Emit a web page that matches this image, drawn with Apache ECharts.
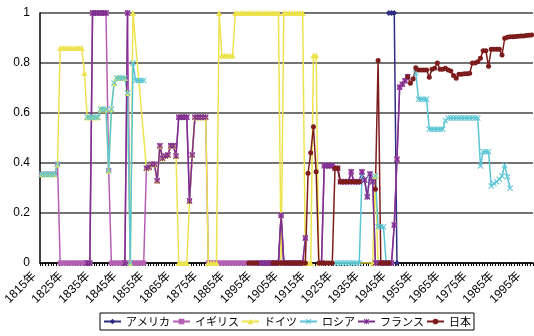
<!DOCTYPE html>
<html>
<head>
<meta charset="utf-8">
<script src="https://cdn.jsdelivr.net/npm/echarts@6/dist/echarts.min.js"></script>
<style>
  html, body { margin: 0; padding: 0; background: #fff; }
  #chart { width: 534px; height: 336px; }
</style>
</head>
<body>
<div id="chart"></div>
<script>
// Years on the category axis, 1815 .. 1997
const firstYear = 1815;
const lastYear = 1997;
const years = [];
for (let y = firstYear; y <= lastYear; y++) years.push(y + '年');

const seriesNames = ['アメリカ', 'イギリス', 'ドイツ', 'ロシア', 'フランス', '日本'];

const _ = null;

// One value per year, ten years per row
const usa = [
  _,_,_,_,_,_,_,_,_,_,
  _,_,_,_,_,_,_,_,_,_,
  _,_,_,_,_,_,_,_,_,_,
  _,_,_,_,_,_,_,_,_,_,
  _,_,_,_,_,_,_,_,_,_,
  _,_,_,_,_,_,_,_,_,_,
  _,_,_,_,_,_,_,_,_,_,
  _,_,_,_,_,_,_,_,_,_,
  _,_,_,_,_,_,_,_,0,0.19,
  0,_,_,_,_,_,_,_,_,_,
  _,_,_,_,_,_,_,_,_,_,
  _,_,_,_,_,_,_,_,_,_,
  _,_,_,_,_,_,_,_,_,1,
  1,1,0,_,_,_,_,_,_,_,
  _,_,_,_,_,_,_,_,_,_,
  _,_,_,_,_,_,_,_,_,_,
  _,_,_,_,_,_,_,_,_,_,
  _,_,_,_,_,_,_,_,_,_,
  _,_,_
];

const uk = [
  0.355,0.355,0.355,0.355,0.355,0.355,0.395,0,0,0,
  0,0,0,0,0,0,0,0,0,1,
  1,1,1,1,1,0.37,0,0,0,0,
  0,0,1,0,0,0,0,0,0,0.379,
  0.383,0.395,0.395,0.329,0.469,0.419,0.428,0.432,0.469,0.469,
  0.428,0.583,0.583,0.583,0.583,0.248,0.432,0.583,0.583,0.583,
  0.583,0.583,0,0,0,0,0,0,0,0,
  0,0,0,0,0,0,0,0,0,0,
  0,0,0,0,0,0,0,0,0,0.19,
  0,0,0,0,0,0,0,0,0.1,_,
  _,_,_,_,0,0.389,0.389,0.389,0.389,0.379,
  0.379,0.325,0.325,0.325,0.325,0.365,0.325,0.325,0.325,0.365,
  0.332,0.265,0.356,0.325,0,0,0,0,0,0,
  0,0.152,0.415,0.703,0.715,0.729,0.745,_,_,_,
  _,_,_,_,_,_,_,_,_,_,
  _,_,_,_,_,_,_,_,_,_,
  _,_,_,_,_,_,_,_,_,_,
  _,_,_,_,_,_,_,_,_,_,
  _,_,_
];

const germany = [
  0.355,0.355,0.355,0.355,0.355,0.355,0.395,0.86,0.86,0.86,
  0.86,0.86,0.86,0.86,0.86,0.86,0.76,0.583,0.583,0.583,
  0.583,0.583,0.615,0.615,0.615,0.37,0.615,0.72,0.74,0.74,
  0.74,0.74,0.68,0,1,_,_,_,_,0.379,
  0.383,0.395,0.395,0.329,0.469,0.419,0.428,0.432,0.469,0.469,
  0.428,0,0,0,0,0.248,0.432,0.583,0.583,0.583,
  0.583,0.583,0,0,0,0,1,0.83,0.83,0.83,
  0.83,0.83,1,1,1,1,1,1,1,1,
  1,1,1,1,1,1,1,1,1,0,
  1,1,1,1,1,1,1,1,0,0,
  0,0.83,0.83,0,_,_,_,_,_,_,
  _,_,_,_,_,_,_,_,_,_,
  _,_,_,0,0.348,0,_,_,_,_,
  _,_,_,_,_,_,_,_,_,_,
  _,_,_,_,_,_,_,_,_,_,
  _,_,_,_,_,_,_,_,_,_,
  _,_,_,_,_,_,_,_,_,_,
  _,_,_,_,_,_,_,_,_,_,
  _,_,_
];

const russia = [
  0.355,0.355,0.355,0.355,0.355,0.355,0.395,_,_,_,
  _,_,_,_,_,_,_,0.583,0.583,0.583,
  0.583,0.583,0.615,0.615,0.615,0.37,0.615,0.72,0.74,0.74,
  0.74,0.74,0.68,0,0.80,0.73,0.73,0.73,0.73,_,
  _,_,_,_,_,_,_,_,_,_,
  _,_,_,_,_,_,_,_,_,_,
  _,_,_,_,_,_,_,_,_,_,
  _,_,_,_,_,_,_,_,_,_,
  _,_,_,_,_,_,_,_,_,_,
  _,_,_,_,_,_,_,_,_,_,
  _,_,_,_,_,_,_,_,_,0,
  0,0,0,0,0,0,0,0,0,0.345,
  0.332,0.265,0.356,0.325,0.348,0.145,0.145,0.145,0,_,
  _,_,_,_,_,_,_,_,_,0.76,
  0.655,0.655,0.655,0.655,0.535,0.535,0.535,0.535,0.535,0.535,
  0.57,0.58,0.58,0.58,0.58,0.58,0.58,0.58,0.58,0.58,
  0.58,0.58,0.58,0.388,0.445,0.445,0.445,0.308,0.318,0.325,
  0.335,0.348,0.392,0.345,0.299,_,_,_,_,_,
  _,_,_
];

const france = [
  _,_,_,_,_,_,_,_,_,_,
  _,_,_,_,_,_,_,0,0,1,
  1,1,1,1,1,_,_,_,_,_,
  _,0,1,_,_,_,_,_,_,0.379,
  0.383,0.395,0.395,0.329,0.469,0.419,0.428,0.432,0.469,0.469,
  0.428,0.583,0.583,0.583,0.583,0.248,0.432,0.583,0.583,0.583,
  0.583,0.583,_,_,_,_,_,_,_,_,
  _,_,_,_,_,_,_,_,_,_,
  _,0,0,0,0,0,0,0,0,0.19,
  0,0,0,0,0,0,0,0,0.1,_,
  _,_,_,_,0,0.389,0.389,0.389,0.389,0.379,
  0.379,0.325,0.325,0.325,0.325,0.365,0.325,0.325,0.325,0.365,
  0.332,0.265,0.356,0.325,0,0,0,0,0,0,
  0,0.152,0.415,0.703,0.715,0.729,0.745,_,_,_,
  _,_,_,_,_,_,_,_,_,_,
  _,_,_,_,_,_,_,_,_,_,
  _,_,_,_,_,_,_,_,_,_,
  _,_,_,_,_,_,_,_,_,_,
  _,_,_
];

const japan = [
  _,_,_,_,_,_,_,_,_,_,
  _,_,_,_,_,_,_,_,_,_,
  _,_,_,_,_,_,_,_,_,_,
  _,_,_,_,_,_,_,_,_,_,
  _,_,_,_,_,_,_,_,_,_,
  _,_,_,_,_,_,_,_,_,_,
  _,_,_,_,_,_,_,_,_,_,
  _,_,_,_,_,_,_,0,0,0,
  0,_,_,_,_,_,0,0,0,0,
  0,0,0,0,0,0,0,0,0,0.359,
  0.441,0.545,0.365,0,0,0,0,0,0,0.379,
  0.379,0.325,0.325,0.325,0.325,0.325,0.325,0.325,0.325,_,
  _,_,_,_,0.295,0.81,0,0,0,0,
  _,_,_,_,_,_,0.745,0.719,0.736,0.781,
  0.772,0.772,0.772,0.772,0.743,0.775,0.779,0.80,0.775,0.775,
  0.779,0.772,0.768,0.75,0.739,0.755,0.755,0.757,0.757,0.759,
  0.80,0.80,0.805,0.819,0.849,0.849,0.787,0.855,0.855,0.855,
  0.855,0.832,0.899,0.903,0.905,0.905,0.906,0.907,0.908,0.908,
  0.910,0.911,0.912
];

// Marker shapes: a cross and an asterisk (cross plus vertical bar)
const crossPath = 'path://M0,1.2L1.2,0L5,3.8L8.8,0L10,1.2L6.2,5L10,8.8L8.8,10L5,6.2L1.2,10L0,8.8L3.8,5Z';
const starPath = 'path://M0,1.2L1.2,0L5,3.8L8.8,0L10,1.2L6.2,5L10,8.8L8.8,10L5,6.2L1.2,10L0,8.8L3.8,5Z M4.3,0L5.7,0L5.7,10L4.3,10Z';

const values = [usa, uk, germany, russia, france, japan];
const colors = ['#2E2E80', '#B35FB3', '#EDE34F', '#5BC5D5', '#7D2E8E', '#7D1C1C'];
const symbols = ['diamond', 'rect', 'triangle', crossPath, starPath, 'circle'];
const symbolSizes = [6, 5, 6, 6, 6, 5];

const chart = echarts.init(document.getElementById('chart'), null, { renderer: 'canvas' });

const series = seriesNames.map((name, k) => ({
  name: name,
  type: 'line',
  data: values[k],
  symbol: symbols[k],
  symbolSize: symbolSizes[k],
  showAllSymbol: true,
  connectNulls: k === 2,
  color: colors[k],
  lineStyle: { width: 1.5, color: colors[k] },
  itemStyle: { color: colors[k] },
  emphasis: { disabled: true }
}));

chart.setOption({
  animation: false,
  backgroundColor: '#ffffff',
  grid: { left: 40, right: 1, top: 13, bottom: 73, containLabel: false },
  legend: {
    data: seriesNames,
    left: 100,
    top: 313,
    orient: 'horizontal',
    itemWidth: 17,
    itemHeight: 7,
    itemGap: 2,
    padding: [3, 3],
    borderColor: '#000',
    borderWidth: 1,
    textStyle: { fontSize: 11, color: '#000', fontFamily: 'Noto Sans CJK JP' }
  },
  xAxis: {
    type: 'category',
    data: years,
    boundaryGap: true,
    axisLine: { lineStyle: { color: '#000', width: 1.5 } },
    axisTick: { show: true, interval: 0, length: 3, lineStyle: { color: '#000' } },
    axisLabel: {
      interval: 9,
      rotate: 45,
      fontSize: 12,
      color: '#000',
      margin: 4,
      padding: [0, 10, 0, 0],
      fontFamily: 'Liberation Sans, Noto Sans CJK JP'
    },
    splitLine: { show: false }
  },
  yAxis: {
    type: 'value',
    min: 0,
    max: 1,
    interval: 0.2,
    axisLine: { show: true, lineStyle: { color: '#000', width: 1.5 } },
    axisTick: { show: false },
    axisLabel: { fontSize: 12, color: '#000', margin: 10, fontFamily: 'Liberation Sans' },
    splitLine: { show: true, lineStyle: { color: '#444', width: 1.5 } }
  },
  series: series
});
</script>
</body>
</html>
